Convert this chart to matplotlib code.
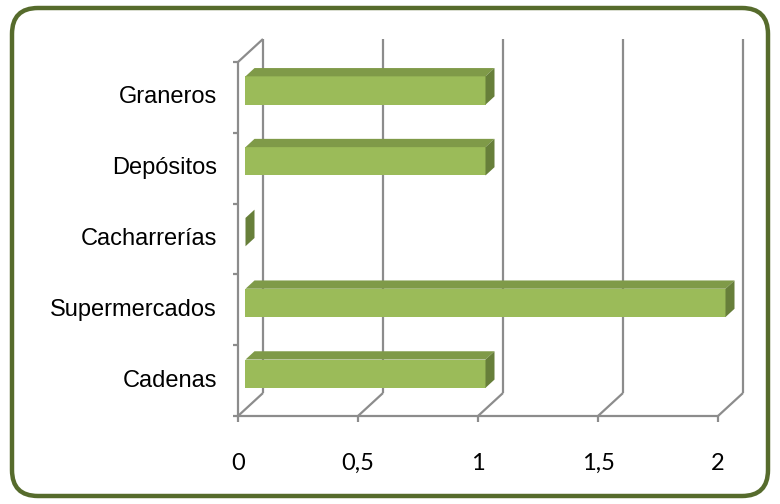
import matplotlib
matplotlib.use("Agg")
import matplotlib.pyplot as plt
from matplotlib.patches import FancyBboxPatch, Polygon

categories = ["Cadenas", "Supermercados", "Cacharrerías", "Depósitos", "Graneros"]
values = [1, 2, 0, 1, 1]
x_ticks = [0, 0.5, 1, 1.5, 2]
x_labels = ["0", "0,5", "1", "1,5", "2"]

FRONT = "#9BBB59"
TOP = "#7F9A48"
SIDE = "#677F3A"
GRID = "#8C8C8C"
BORDER = "#566B2C"

W, H = 780, 504
fig = plt.figure(figsize=(W / 100, H / 100), dpi=100)

# outer rounded frame, drawn in pixel units
bg = fig.add_axes([0, 0, 1, 1])
bg.set_xlim(0, W)
bg.set_ylim(0, H)
bg.axis("off")
bg.add_patch(FancyBboxPatch((12, 8), W - 24, H - 16,
                            boxstyle="round,pad=0,rounding_size=26",
                            fc="white", ec=BORDER, lw=3.2))

# plot area (pixel box) and scales
px_left, px_right, px_top, px_bot = 200, 760, 30, 485
x0_px, x_scale = 238, 240
y0_px, y_scale = 416, 70.8
ax = fig.add_axes([px_left / W, (H - px_bot) / H,
                   (px_right - px_left) / W, (px_bot - px_top) / H])
ax.set_xlim(-(x0_px - px_left) / x_scale, (px_right - x0_px) / x_scale)
ax.set_ylim(-(px_bot - y0_px) / y_scale, (y0_px - px_top) / y_scale)
ax.axis("off")

# depth of the 3-D box in data units
DX = 25 / x_scale
DY = 23 / y_scale
n = len(categories)
xmax = x_ticks[-1]
gl = dict(color=GRID, lw=1.6, solid_capstyle="butt", zorder=1)

# back wall gridlines and floor diagonals
for x in x_ticks:
    ax.plot([x + DX, x + DX], [DY, n + DY], **gl)
    ax.plot([x, x + DX], [0, DY], **gl)
    ax.plot([x, x], [0, -0.085], **gl)
# left wall, front axis and category ticks
ax.plot([0, 0], [0, n], **gl)
ax.plot([0, DX], [n, n + DY], **gl)
ax.plot([0, xmax], [0, 0], **gl)
for k in range(n + 1):
    ax.plot([-0.022, 0], [k, k], **gl)

# bars as 3-D boxes
a, b = 0.3, 0.66
h = 0.4
ddx, ddy = (b - a) * DX, (b - a) * DY
for i, v in enumerate(values):
    yc = i + 0.5 + a * DY
    yb, yt = yc - h / 2, yc + h / 2
    x1 = a * DX
    x2 = v + a * DX
    if v > 0:
        ax.barh(yc, v, left=x1, height=h, color=FRONT, zorder=3)
        ax.add_patch(Polygon([(x1, yt), (x2, yt), (x2 + ddx, yt + ddy), (x1 + ddx, yt + ddy)],
                             closed=True, fc=TOP, ec="none", zorder=3))
    ax.add_patch(Polygon([(x2, yb), (x2, yt), (x2 + ddx, yt + ddy), (x2 + ddx, yb + ddy)],
                         closed=True, fc=SIDE, ec="none", zorder=3))

# labels
for i, name in enumerate(categories):
    ax.text(-21 / x_scale, i + 0.5, name, ha="right", va="center",
            family=["Liberation Sans", "DejaVu Sans"], fontsize=17, color="black")
for x, lab in zip(x_ticks, x_labels):
    ax.text(x, -54 / y_scale, lab, ha="center", va="baseline",
            family=["Lato", "DejaVu Sans"], fontsize=17, color="black")

fig.savefig("out.png", dpi=100)
